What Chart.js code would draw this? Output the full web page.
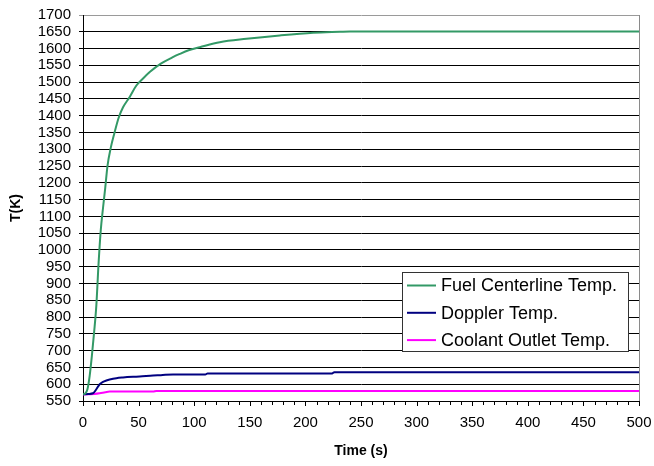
<!DOCTYPE html>
<html><head><meta charset="utf-8">
<script src="https://cdn.jsdelivr.net/npm/chart.js@4.4.0/dist/chart.umd.min.js"></script>
<style>html,body{margin:0;padding:0;background:#fff}</style>
</head><body>
<canvas id="c" width="654" height="466"></canvas>
<script>
// ---- data ----
const fuelTime = [0, 2, 4, 6, 8, 10, 12, 14, 16, 18, 20, 22, 25, 28, 32, 36, 42, 48, 54, 60, 70, 80, 87, 95, 105, 123, 147, 177, 207, 231, 240, 300, 400, 500];
const fuelTemp = [570, 572, 585, 625, 685, 755, 835, 960, 1060, 1125, 1185, 1250, 1305, 1345, 1393, 1425, 1456, 1490, 1511, 1530, 1555, 1573, 1584, 1595, 1604, 1619, 1629, 1639, 1647, 1650, 1651, 1651, 1651, 1651];

const dopplerTime = [0, 5, 9, 12, 15, 18, 21, 24, 30, 36, 45, 51, 63, 70, 81, 110, 112, 224, 226, 300, 400, 500];
const dopplerTemp = [570, 571, 573, 585, 600, 607, 611, 614, 618, 620, 622, 623, 626, 627, 629, 629, 632, 632, 636, 636, 636, 636];

const coolantTime = [0, 5, 10, 15, 20, 24, 40, 63, 66, 100, 200, 300, 400, 500];
const coolantTemp = [569, 570, 571, 573, 576, 578, 578, 578, 580, 580, 580, 580, 580, 580];

const seriesLabels = ['Fuel Centerline Temp.', 'Doppler Temp.', 'Coolant Outlet Temp.'];
const xTitle = 'Time (s)';
const yTitle = 'T(K)';
const xTickValues = [];   // minor tick every 10 s, labelled every 50 s
for (let v = 0; v <= 500; v += 10) xTickValues.push(v);

function toXY(xs, ys){ return xs.map((x,i)=>({x:x, y:ys[i]})); }

const FONT = 'Liberation Sans, Arial, sans-serif';

const frame = {
  id:'frame',
  beforeDatasetsDraw(chart){
    const {ctx, chartArea:a} = chart;
    ctx.save();
    ctx.strokeStyle = '#8a8a8a';
    ctx.lineWidth = 1;
    ctx.beginPath();
    ctx.moveTo(Math.round(a.right)+0.5, a.top);
    ctx.lineTo(Math.round(a.right)+0.5, a.bottom);
    ctx.stroke();
    // x-axis tick marks (through the library's x scale)
    const xs = chart.scales.x;
    ctx.strokeStyle = '#000';
    ctx.beginPath();
    xTickValues.forEach(v=>{
      const px = Math.round(xs.getPixelForValue(v)) + 0.5;
      const len = (v % 50 === 0) ? 5 : 4;
      ctx.moveTo(px, a.bottom);
      ctx.lineTo(px, a.bottom + len);
    });
    ctx.stroke();
    ctx.restore();
  }
};

const boxLegend = {
  id:'boxLegend',
  afterDraw(chart){
    const {ctx, chartArea:a} = chart;
    const w = 226, h = 79;
    const x = Math.round(a.right - 11 - w), y = Math.round(a.bottom - 50 - h);
    ctx.save();
    ctx.fillStyle = '#fff';
    ctx.fillRect(x, y, w, h);
    ctx.strokeStyle = '#333';
    ctx.lineWidth = 1;
    ctx.strokeRect(x+0.5, y+0.5, w, h);
    ctx.font = '18px ' + FONT;
    ctx.textBaseline = 'middle';
    ctx.fillStyle = '#000';
    chart.data.datasets.forEach((ds,i)=>{
      const ry = y + 13.5 + i*27.3;
      ctx.strokeStyle = ds.borderColor;
      ctx.lineWidth = 2;
      ctx.beginPath();
      ctx.moveTo(x+5, ry);
      ctx.lineTo(x+34, ry);
      ctx.stroke();
      ctx.fillText(ds.label, x+39, ry+1);
    });
    ctx.restore();
  }
};

new Chart(document.getElementById('c'), {
  type:'line',
  data:{datasets:[
    {label:seriesLabels[0], data:toXY(fuelTime, fuelTemp), borderColor:'#339966', borderWidth:2, pointRadius:0, cubicInterpolationMode:'monotone'},
    {label:seriesLabels[1], data:toXY(dopplerTime, dopplerTemp), borderColor:'#000080', borderWidth:2, pointRadius:0, cubicInterpolationMode:'monotone'},
    {label:seriesLabels[2], data:toXY(coolantTime, coolantTemp), borderColor:'#ff00ff', borderWidth:2, pointRadius:0, cubicInterpolationMode:'monotone'}
  ]},
  options:{
    responsive:false, animation:false, devicePixelRatio:1,
    layout:{padding:{left:0, right:15, top:15, bottom:0}},
    plugins:{legend:{display:false}, tooltip:{enabled:false}},
    scales:{
      x:{type:'linear', min:0, max:500,
        afterBuildTicks(s){ s.ticks = xTickValues.filter(v=> v % 50 === 0).map(v=>({value:v})); },
        ticks:{autoSkip:false, maxRotation:0, color:'#000', padding:13,
          font:{family:FONT, size:15},
          callback:(v)=> String(v)},
        grid:{drawOnChartArea:false, drawTicks:false, color:'#000', lineWidth:1},
        border:{color:'#000', width:1},
        title:{display:true, text:xTitle, color:'#000', font:{family:FONT, size:14, weight:'bold'}, padding:{top:8, bottom:6}},
        afterFit(s){ s.height = 65; s.paddingLeft = 0; s.paddingRight = 0; }
      },
      y:{min:550, max:1700,
        ticks:{stepSize:50, maxTicksLimit:100, autoSkip:false, color:'#000', padding:8, font:{family:FONT, size:15},
          callback:(v)=> String(v)},
        grid:{color:(c)=> (c.tick && c.tick.value === 1700 ? '#9a9a9a' : '#000'), tickLength:4, lineWidth:1},
        border:{color:'#000', width:1},
        title:{display:true, text:yTitle, color:'#000', font:{family:FONT, size:14, weight:'bold'}, padding:{top:8, bottom:0}},
        afterFit(s){ s.width = 83; s.paddingTop = 0; s.paddingBottom = 0; }
      }
    }
  },
  plugins:[frame, boxLegend]
});
</script>
</body></html>
